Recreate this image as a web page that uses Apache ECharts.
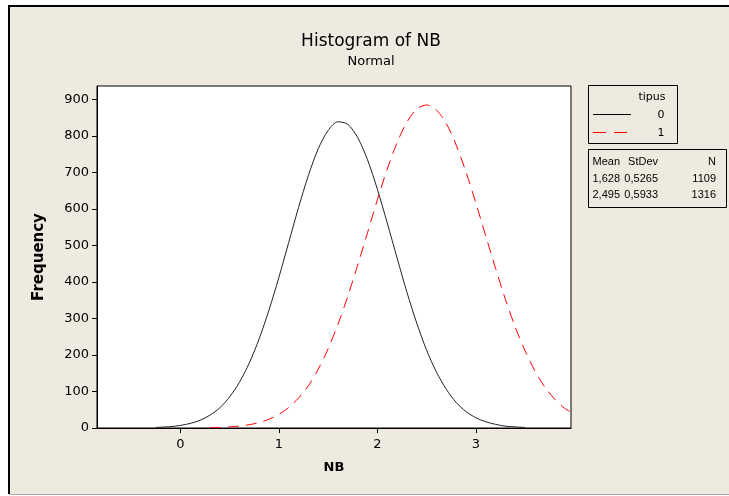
<!DOCTYPE html>
<html>
<head>
<meta charset="utf-8">
<script src="https://cdn.jsdelivr.net/npm/echarts@6/dist/echarts.min.js"></script>
<style>
html,body{margin:0;padding:0;background:#fff;}
#c{width:729px;height:496px;}
</style>
</head>
<body>
<div id="c"></div>
<script>
// ---- data ----
var titleText = 'Histogram of NB';
var subtitleText = 'Normal';
var xAxisName = 'NB';
var yAxisName = 'Frequency';
var xTicks = [0, 1, 2, 3];
var yTicks = [0, 100, 200, 300, 400, 500, 600, 700, 800, 900];
var groupTitle = 'tipus';
var groupNames = ['0', '1'];
var tableHeader = ['Mean', 'StDev', 'N'];
var tableMean = ['1,628', '2,495'];
var tableStDev = ['0,5265', '0,5933'];
var tableN = ['1109', '1316'];

// curve for tipus 0
var x0 = [-0.25,-0.1,0.0,0.1,0.2,0.3,0.4,0.5,0.6,0.7,0.8,0.9,1.0,1.1,1.2,1.3,1.4,1.5,1.6,1.7,1.8,1.9,2.0,2.1,2.2,2.3,2.4,2.5,2.6,2.7,2.8,2.9,3.0,3.1,3.2,3.3,3.4,3.5];
var y0 = [1.5,3.8,7,12.5,21,35,55,85,125,178,244,323,412,508,604,692,765,815,839,832,796,735,654,562,466,372,287,213,153,106,70,45,28,17,10,5,3,1.5];
// curve for tipus 1
var x1 = [0.3,0.4,0.5,0.6,0.7,0.8,0.9,1.0,1.1,1.2,1.3,1.4,1.5,1.6,1.7,1.8,1.9,2.0,2.1,2.2,2.3,2.4,2.5,2.6,2.7,2.8,2.9,3.0,3.1,3.2,3.3,3.4,3.5,3.6,3.7,3.8,3.9,3.965];
var y1 = [1,1.7,3,5.4,9,15,24,37,56,82,116,161,217,284,361,446,535,625,709,782,838,874,885,871,834,775,701,616,526,437,352,276,211,156,112,79,54,44];

var xMin = -0.845, xMax = 3.965, yMin = 0, yMax = 937;

function pairs(xs, ys){ var r=[]; for(var i=0;i<xs.length;i++) r.push([xs[i], ys[i]]); return r; }

var FONT = 'DejaVu Sans';
var TFONT = 'Liberation Sans';
var bg = '#EEEAE0';
var chart = echarts.init(document.getElementById('c'), null, {renderer:'canvas'});

var g = [];
// background panel and frame
g.push({type:'rect', shape:{x:9,y:6,width:720,height:488}, style:{fill:bg}, z:-10, silent:true});
g.push({type:'line', shape:{x1:9,y1:5,x2:9,y2:494}, style:{stroke:'#000',lineWidth:2}, z:-9});
g.push({type:'line', shape:{x1:8,y1:6,x2:729,y2:6}, style:{stroke:'#000',lineWidth:2}, z:-9});
g.push({type:'line', shape:{x1:9,y1:494.5,x2:729,y2:494.5}, style:{stroke:'#a8a8a8',lineWidth:1}, z:-9});
// titles
g.push({type:'text', x:371, y:42, style:{text:titleText, font:'17px "'+FONT+'"', fill:'#000', align:'center', verticalAlign:'middle'}});
g.push({type:'text', x:371, y:62, style:{text:subtitleText, font:'13px "'+FONT+'"', fill:'#000', align:'center', verticalAlign:'middle'}});
// legend box
g.push({type:'rect', shape:{x:588.5,y:85.5,width:89,height:58}, style:{fill:bg, stroke:'#000', lineWidth:1}});
g.push({type:'text', x:652, y:97, style:{text:groupTitle, font:'11px "'+FONT+'"', fill:'#000', align:'center', verticalAlign:'middle'}});
g.push({type:'line', shape:{x1:593,y1:114.5,x2:631,y2:114.5}, style:{stroke:'#000',lineWidth:1}});
g.push({type:'text', x:661, y:115, style:{text:groupNames[0], font:'11px "'+FONT+'"', fill:'#000', align:'center', verticalAlign:'middle'}});
g.push({type:'line', shape:{x1:593,y1:132.5,x2:628,y2:132.5}, style:{stroke:'#ff0000',lineWidth:1, lineDash:[13,8]}});
g.push({type:'text', x:661, y:133, style:{text:groupNames[1], font:'11px "'+FONT+'"', fill:'#000', align:'center', verticalAlign:'middle'}});
// stats table
g.push({type:'rect', shape:{x:588.5,y:149.5,width:138,height:58}, style:{fill:bg, stroke:'#000', lineWidth:1}});
var colX = [620, 658, 716];
var rowsY = [162, 179, 195];
for (var c=0;c<3;c++){
  g.push({type:'text', x:colX[c], y:rowsY[0], style:{text:tableHeader[c], font:'11px "'+TFONT+'"', fill:'#000', align:'right', verticalAlign:'middle'}});
}
for (var r=0;r<2;r++){
  var vals=[tableMean[r], tableStDev[r], tableN[r]];
  for (var c2=0;c2<3;c2++){
    g.push({type:'text', x:colX[c2], y:rowsY[r+1], style:{text:vals[c2], font:'11px "'+TFONT+'"', fill:'#000', align:'right', verticalAlign:'middle'}});
  }
}

var option = {
  backgroundColor: '#fff',
  animation: false,
  grid: {left:97, top:86, width:474, height:342, show:true, backgroundColor:'#fff', borderColor:'#000', borderWidth:1, containLabel:false},
  xAxis: {
    type:'value', min:xMin, max:xMax,
    name:xAxisName, nameLocation:'middle', nameGap:33,
    nameTextStyle:{fontFamily:FONT, fontSize:13, fontWeight:'bold', color:'#000'},
    axisLine:{show:true, onZero:false, lineStyle:{color:'#000', width:1}},
    axisTick:{show:true, inside:false, length:5, customValues:xTicks, lineStyle:{color:'#000'}},
    axisLabel:{customValues:xTicks, fontFamily:FONT, fontSize:13, color:'#000', margin:10},
    splitLine:{show:false}
  },
  yAxis: {
    type:'value', min:yMin, max:yMax,
    name:yAxisName, nameLocation:'middle', nameGap:50, nameRotate:90,
    nameTextStyle:{fontFamily:FONT, fontSize:15, fontWeight:'bold', color:'#000'},
    axisLine:{show:true, onZero:false, lineStyle:{color:'#000', width:1}},
    axisTick:{show:true, inside:false, length:5, customValues:yTicks, lineStyle:{color:'#000'}},
    axisLabel:{customValues:yTicks, fontFamily:FONT, fontSize:13, color:'#000', margin:8},
    splitLine:{show:false}
  },
  graphic: g,
  series: [
    {type:'line', name:groupNames[0], data:pairs(x0,y0), showSymbol:false, smooth:0.3,
     lineStyle:{color:'#222', width:1}, z:3},
    {type:'line', name:groupNames[1], data:pairs(x1,y1), showSymbol:false, smooth:0.3,
     lineStyle:{color:'#ff0000', width:1, type:[11,7]}, z:3}
  ]
};
chart.setOption(option);
</script>
</body>
</html>
